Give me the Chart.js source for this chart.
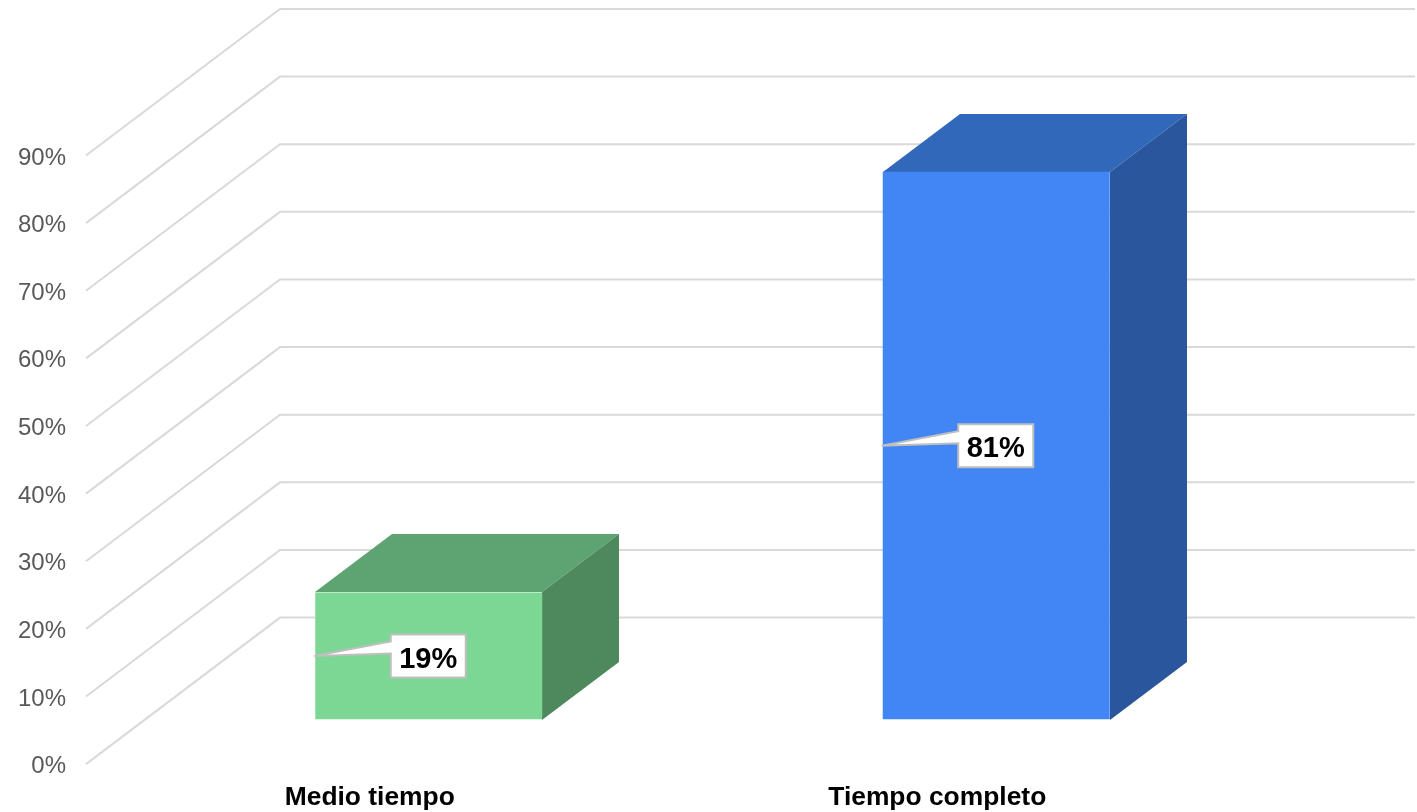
<!DOCTYPE html>
<html>
<head>
<meta charset="utf-8">
<title>Medio tiempo / Tiempo completo</title>
<script src="https://cdn.jsdelivr.net/npm/chart.js@4"></script>
<style>
  html, body { margin: 0; padding: 0; background: #fff; overflow: hidden; }
  canvas { display: block; }
</style>
</head>
<body>
<canvas id="chart" width="1417" height="813" style="width:1417px;height:813px"></canvas>
<script>
const categories = ['Medio tiempo', 'Tiempo completo'];
const seriesValues = [18.8, 81];
const valueLabels = ['19%', '81%'];
const frontColors = ['#7bd793', '#4285f4'];
const topColors = ['#5da472', '#3268b9'];
const sideColors = ['#4e895d', '#2a569e'];
const yMin = 0, yMax = 90, yStep = 10;

const FONT = '"Liberation Sans", Arial, sans-serif';
const GRID_COLOR = '#d9d9d9';
// offset of the back wall from the bar plane, and of the axis edge
const barDepth = { x: 77, y: -58 };
const wallBack = { x: 280, dy: -102 };
const wallFront = { x: 86, dy: 44.5 };

// back wall + floor lines, from the y scale ticks
const wallPlugin = {
  id: 'wall',
  beforeDatasetsDraw(chart) {
    const { ctx, scales: { y } } = chart;
    ctx.save();
    ctx.strokeStyle = GRID_COLOR;
    ctx.lineWidth = 2;
    y.ticks.forEach(t => {
      const p = y.getPixelForValue(t.value);
      ctx.beginPath();
      ctx.moveTo(wallFront.x, p + wallFront.dy);
      ctx.lineTo(wallBack.x, p + wallBack.dy);
      ctx.lineTo(1415, p + wallBack.dy);
      ctx.stroke();
    });
    ctx.restore();
  }
};

// top and side faces of each bar
const boxPlugin = {
  id: 'box',
  beforeDatasetsDraw(chart) {
    const { ctx } = chart;
    const dx = barDepth.x, dy = barDepth.y;
    chart.getDatasetMeta(0).data.forEach((bar, i) => {
      const l = Math.round(bar.x - bar.width / 2), r = Math.round(bar.x + bar.width / 2);
      const t = Math.round(bar.y), b = Math.round(bar.base);
      ctx.fillStyle = topColors[i];
      ctx.beginPath();
      ctx.moveTo(l, t);
      ctx.lineTo(l + dx, t + dy);
      ctx.lineTo(r + dx, t + dy);
      ctx.lineTo(r, t);
      ctx.closePath();
      ctx.fill();
      ctx.fillStyle = sideColors[i];
      ctx.beginPath();
      ctx.moveTo(r, t);
      ctx.lineTo(r + dx, t + dy);
      ctx.lineTo(r + dx, b + dy);
      ctx.lineTo(r, b);
      ctx.closePath();
      ctx.fill();
    });
  }
};

// white callout with leader pointing at the left edge of the bar
const calloutPlugin = {
  id: 'callout',
  afterDatasetsDraw(chart) {
    const { ctx } = chart;
    chart.getDatasetMeta(0).data.forEach((bar, i) => {
      const l = bar.x - bar.width / 2;
      const cy = (bar.y + bar.base) / 2;
      const w = 75, h = 43;
      const x = bar.x - w / 2 - 0.5, y = cy - h / 2;
      ctx.save();
      ctx.fillStyle = '#fff';
      ctx.strokeStyle = '#bfbfbf';
      ctx.lineWidth = 2;
      ctx.lineJoin = 'miter';
      ctx.beginPath();
      ctx.moveTo(x, y);
      ctx.lineTo(x + w, y);
      ctx.lineTo(x + w, y + h);
      ctx.lineTo(x, y + h);
      ctx.lineTo(x, y + 19);
      ctx.lineTo(l - 1, cy);
      ctx.lineTo(x, y + 7);
      ctx.closePath();
      ctx.fill();
      ctx.stroke();
      ctx.fillStyle = '#000';
      ctx.font = 'bold 29px ' + FONT;
      ctx.textAlign = 'center';
      ctx.textBaseline = 'middle';
      ctx.fillText(valueLabels[i], bar.x - 0.5, cy + 3.5);
      ctx.restore();
    });
  }
};

new Chart(document.getElementById('chart'), {
  type: 'bar',
  data: {
    labels: categories,
    datasets: [{
      data: seriesValues,
      backgroundColor: frontColors,
      borderWidth: 0,
      barPercentage: 0.4,
      categoryPercentage: 1
    }]
  },
  options: {
    responsive: false,
    animation: false,
    layout: { padding: { top: 111, right: 137, left: 0, bottom: 0 } },
    plugins: { legend: { display: false }, tooltip: { enabled: false } },
    scales: {
      x: {
        grid: { display: false, drawTicks: false },
        border: { display: false },
        afterFit(scale) { scale.height = 92; },
        ticks: {
          color: '#000',
          font: { family: FONT, size: 26.4, weight: 'bold' },
          padding: 62,
          labelOffset: -59,
          maxRotation: 0
        }
      },
      y: {
        min: yMin,
        max: yMax,
        grid: { display: false, drawTicks: false },
        border: { display: false },
        afterFit(scale) { scale.width = 145; },
        ticks: {
          stepSize: yStep,
          color: '#595959',
          font: { family: FONT, size: 24 },
          padding: 79,
          labelOffset: 47,
          callback: v => v + '%'
        }
      }
    }
  },
  plugins: [wallPlugin, boxPlugin, calloutPlugin]
});
</script>
</body>
</html>
